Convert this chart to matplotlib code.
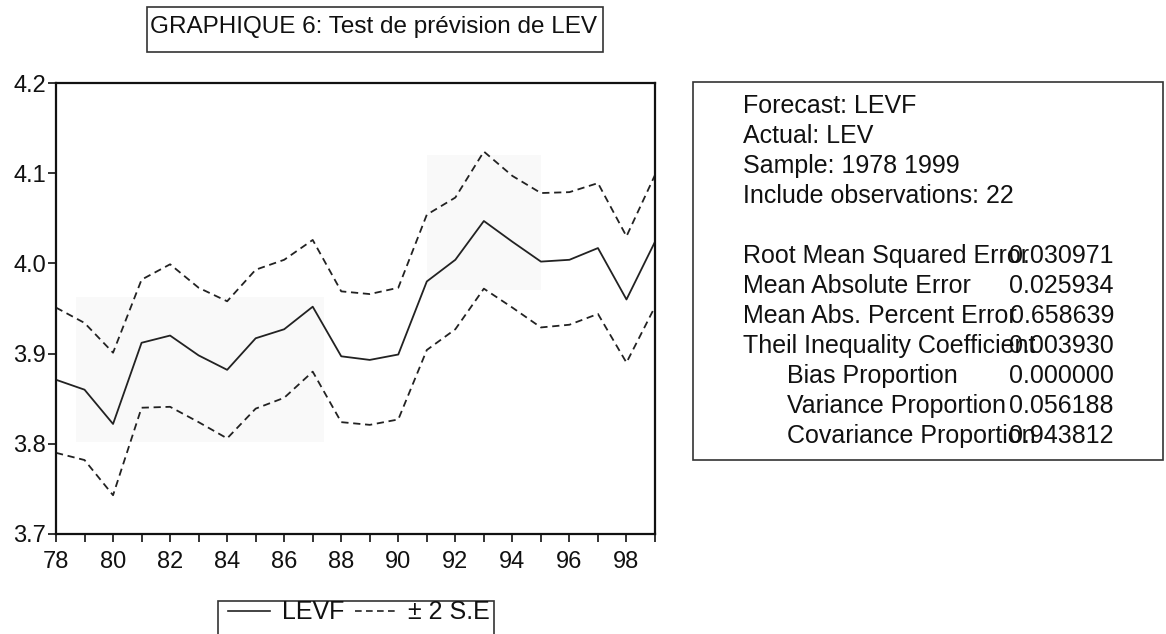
import matplotlib.pyplot as plt
import matplotlib.patches as mpatches
import numpy as np

plt.rcParams['font.family'] = ['Liberation Sans', 'DejaVu Sans']

# Données
annees = np.arange(78, 100)
levf = [3.871, 3.860, 3.822, 3.912, 3.920, 3.898, 3.882, 3.917, 3.927, 3.952, 3.897,
        3.893, 3.899, 3.980, 4.004, 4.047, 4.024, 4.002, 4.004, 4.017, 3.960, 4.024]
borne_sup = [3.951, 3.934, 3.901, 3.982, 3.999, 3.973, 3.958, 3.993, 4.004, 4.026, 3.969,
             3.966, 3.973, 4.054, 4.073, 4.124, 4.097, 4.078, 4.079, 4.089, 4.030, 4.098]
borne_inf = [3.790, 3.782, 3.743, 3.840, 3.841, 3.824, 3.806, 3.839, 3.851, 3.880, 3.824,
             3.821, 3.827, 3.904, 3.927, 3.972, 3.951, 3.929, 3.932, 3.944, 3.890, 3.952]
yticks = [3.7, 3.8, 3.9, 4.0, 4.1, 4.2]
xticks_lab = list(range(78, 100, 2))

titre = 'GRAPHIQUE 6: Test de prévision de LEV'
entete = ['Forecast: LEVF', 'Actual: LEV', 'Sample: 1978 1999', 'Include observations: 22']
stats_noms = ['Root Mean Squared Error', 'Mean Absolute Error', 'Mean Abs. Percent Error',
              'Theil Inequality Coefficient', 'Bias Proportion', 'Variance Proportion',
              'Covariance Proportion']
stats_vals = ['0.030971', '0.025934', '0.658639', '0.003930', '0.000000', '0.056188', '0.943812']
stats_indent = [False, False, False, False, True, True, True]

W, H = 1166, 634
fig = plt.figure(figsize=(W / 100, H / 100), dpi=100)


def px(x, y):
    # pixel (haut-gauche) -> coordonnées figure
    return x / W, 1 - y / H


ax = fig.add_axes([56 / W, (H - 534) / H, (655 - 56) / W, (534 - 83) / H])

# zones grisées très claires du scan
ax.add_patch(mpatches.Rectangle((78.7, 3.802), 8.7, 0.161, color='#f9f9f9', lw=0, zorder=0))
ax.add_patch(mpatches.Rectangle((91.0, 3.970), 4.0, 0.150, color='#f9f9f9', lw=0, zorder=0))

tirets = (0, (4, 2.6))
ax.plot(annees, levf, color='#222222', lw=1.3)
ax.plot(annees, borne_sup, color='#222222', lw=1.3, ls=tirets)
ax.plot(annees, borne_inf, color='#222222', lw=1.3, ls=tirets)

ax.set_xlim(78, 99)
ax.set_ylim(3.7, 4.2)
ax.set_yticks(yticks)
ax.set_yticklabels([f'{v:.1f}' for v in yticks])
ax.set_xticks(np.arange(78, 100))
ax.set_xticklabels([str(a) if a in xticks_lab else '' for a in range(78, 100)])
ax.tick_params(axis='both', direction='out', length=6, width=1.2, labelsize=17,
               colors='#111111')
ax.tick_params(axis='x', pad=6)
ax.tick_params(axis='y', pad=1, length=6)
for s in ax.spines.values():
    s.set_linewidth(1.6)
    s.set_color('#111111')

# titre encadré
fig.patches.append(mpatches.Rectangle(px(147, 52), (603 - 147) / W, 45 / H,
                                      transform=fig.transFigure, fill=False,
                                      ec='#333333', lw=1.2))
fig.text(*px(374, 33), titre, ha='center', va='baseline', fontsize=17.5, color='#111111')

# boîte des statistiques
fig.patches.append(mpatches.Rectangle(px(693, 460), (1163 - 693) / W, (460 - 82) / H,
                                      transform=fig.transFigure, fill=False,
                                      ec='#333333', lw=1.2))
for i, t in enumerate(entete):
    fig.text(*px(743, 113 + 30 * i), t, ha='left', va='baseline', fontsize=18, color='#111111')
for i, (n, v, ind) in enumerate(zip(stats_noms, stats_vals, stats_indent)):
    x = 787 if ind else 743
    yb = 263 + 30 * i
    fig.text(*px(x, yb), n, ha='left', va='baseline', fontsize=18, color='#111111')
    fig.text(*px(1114, yb), v, ha='right', va='baseline', fontsize=18, color='#111111')

# légende
fig.patches.append(mpatches.Rectangle(px(218, 640), (494 - 218) / W, 39 / H,
                                      transform=fig.transFigure, fill=False,
                                      ec='#333333', lw=1.2))
fig.lines.append(plt.Line2D([228 / W, 270 / W], [1 - 611 / H] * 2, transform=fig.transFigure,
                            color='#222222', lw=1.2))
fig.text(*px(282, 619), 'LEVF', ha='left', va='baseline', fontsize=18, color='#111111')
fig.lines.append(plt.Line2D([355 / W, 398 / W], [1 - 611 / H] * 2, transform=fig.transFigure,
                            color='#222222', lw=1.2, ls=tirets))
fig.text(*px(408, 619), '± 2 S.E', ha='left', va='baseline', fontsize=18, color='#111111')

fig.savefig('out.png', dpi=100)
